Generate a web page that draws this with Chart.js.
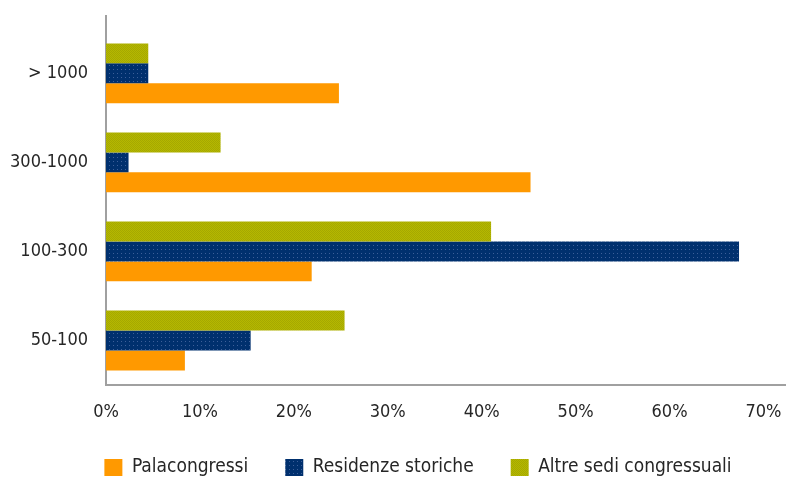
<!DOCTYPE html>
<html>
<head>
<meta charset="utf-8">
<script src="https://cdn.jsdelivr.net/npm/chart.js@4.4.0/dist/chart.umd.min.js"></script>
<style>
html,body{margin:0;padding:0;background:#fff;}
#wrap{width:786px;height:479px;position:relative;}
</style>
</head>
<body>
<div id="wrap"><canvas id="c" width="786" height="479"></canvas></div>
<script>
const categories = ['> 1000', '300-1000', '100-300', '50-100'];
const palacongressi = [24.8, 45.2, 21.9, 8.4];
const residenze = [4.5, 2.4, 67.4, 15.4];
const altre = [4.5, 12.2, 41.0, 25.4];
const tickValues = [0, 10, 20, 30, 40, 50, 60, 70];
const seriesNames = ['Palacongressi', 'Residenze storiche', 'Altre sedi congressuali'];

function makePattern(base, dot, size, pts) {
  const p = document.createElement('canvas');
  p.width = size; p.height = size;
  const g = p.getContext('2d');
  g.fillStyle = base; g.fillRect(0, 0, size, size);
  g.fillStyle = dot;
  pts.forEach(([x, y]) => g.fillRect(x, y, 1, 1));
  return g.createPattern(p, 'repeat');
}
const ctx = document.getElementById('c').getContext('2d');
const bluePat = makePattern('#00306e', '#3d5f99', 4, [[1, 1]]);
const greenPat = makePattern('#b5b800', '#a5a800', 2, [[0, 0], [1, 1]]);

const FONT = "'DejaVu Sans Condensed', 'DejaVu Sans', sans-serif";
const TEXT = '#262626';
Chart.defaults.font.family = FONT;
Chart.defaults.color = TEXT;

const axisExt = {
  id: 'axisExt',
  afterLayout(chart) {
    if (chart.legend) { chart.legend.left += 25; chart.legend.right += 25; }
  },
  afterDraw(chart) {
    const a = chart.chartArea, c = chart.ctx;
    c.save();
    c.strokeStyle = '#a0a0a0';
    c.lineWidth = 2;
    c.beginPath();
    c.moveTo(a.left, 15);
    c.lineTo(a.left, a.top + 1);
    c.stroke();
    c.restore();
  }
};

new Chart(ctx, {
  type: 'bar',
  data: {
    labels: categories,
    datasets: [
      { label: seriesNames[2], data: altre, backgroundColor: greenPat },
      { label: seriesNames[1], data: residenze, backgroundColor: bluePat },
      { label: seriesNames[0], data: palacongressi, backgroundColor: '#ff9900' }
    ]
  },
  options: {
    indexAxis: 'y',
    responsive: false,
    animation: false,
    categoryPercentage: 0.672,
    barPercentage: 1.0,
    layout: { padding: { top: 28, left: 0, right: 0, bottom: -8 } },
    plugins: {
      legend: {
        position: 'bottom',
        reverse: true,
        labels: {
          boxWidth: 18, boxHeight: 17, padding: 37,
          font: { size: 19, family: FONT }, color: TEXT
        }
      },
      tooltip: { enabled: false }
    },
    scales: {
      x: {
        min: 0, max: 72.4,
        grid: { display: false, drawTicks: false },
        border: { display: true, color: '#a0a0a0', width: 2 },
        afterBuildTicks(s) { s.ticks = tickValues.map(v => ({ value: v })); },
        afterFit(s) { s.height = 36; s.paddingRight = 0; },
        ticks: {
          padding: 17,
          font: { size: 18, family: FONT }, color: TEXT,
          callback: v => v + '%'
        }
      },
      y: {
        grid: { display: false, drawTicks: false },
        border: { display: true, color: '#a0a0a0', width: 2 },
        afterFit(s) { s.width = 106; },
        ticks: {
          padding: 18,
          font: { size: 18, family: FONT }, color: TEXT
        }
      }
    }
  },
  plugins: [axisExt]
});
</script>
</body>
</html>
